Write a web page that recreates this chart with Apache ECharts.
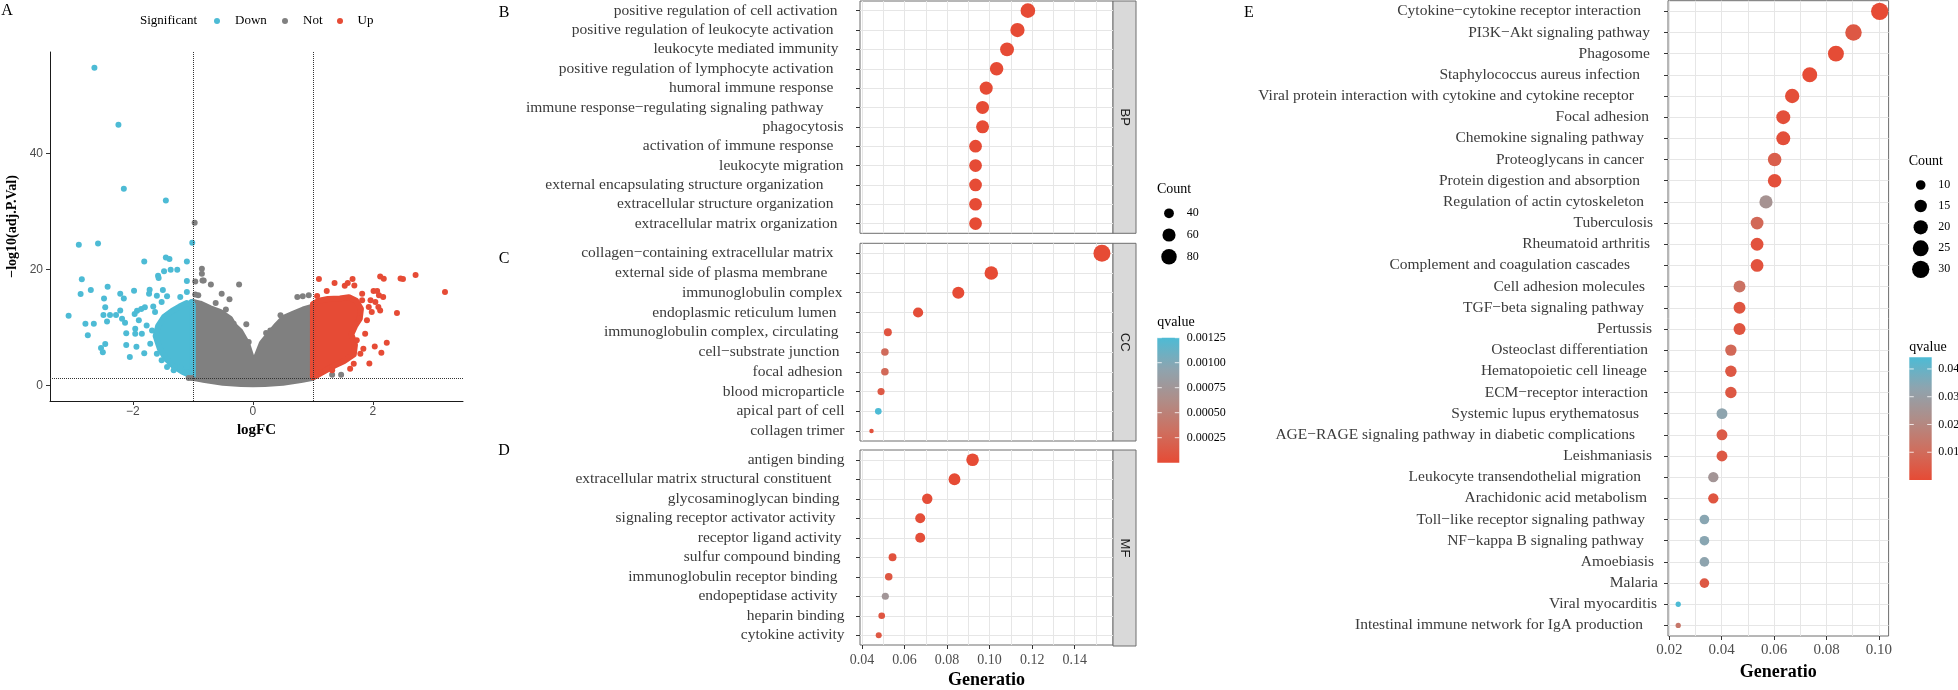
<!DOCTYPE html>
<html><head><meta charset="utf-8">
<script src="https://cdn.jsdelivr.net/npm/echarts@6/dist/echarts.min.js"></script>
<style>html,body{margin:0;padding:0;background:#fff}#c{width:1958px;height:690px}</style>
</head><body><div id="c"></div>
<script>
// ===================== DATA =====================
// Panel A – volcano plot
const volcXTicks = [-2, 0, 2];
const volcYTicks = [0, 20, 40];
const fcCut = [-1, 1];
const pCut = 1.3;
// individually readable points
const downX = [-2.64,-2.24,-2.15,-1.45,-2.9,-2.58,-1.01,-1.81,-1.45,-1.39,-1.1,-2.85,-1.48,-1.58,-1.57,-1.37,-1.26,-1.1,-2.42,-2.7,-2.87,-2.21,-2.48,-2.15,-1.98,-1.73,-1.72,-1.5,-1.6,-3.07,-2.46,-2.49,-2.38,-2.28,-2.21,-2.18,-2.79,-2.65,-2.43,-2.13,-2.75,-2.11,-2.46,-2.53,-2.5,-2.11,-2.05,-1.94,-1.81,-1.96,-1.96,-1.97,-1.93,-1.86,-1.8,-1.66,-1.9,-1.77,-1.68,-1.85,-1.71,-1.6,-1.52,-1.43,-1.32,-1.21,-1.1,-1.43,-1.21,-1.1,-1.02,-1.63,-1.52];
const downY = [54.77,44.94,33.91,31.9,24.25,24.48,24.6,21.38,22.07,21.78,21.38,18.28,19.66,18.91,18.51,19.94,19.94,17.99,17.01,16.44,15.75,15.81,15.0,15.0,16.32,15.81,16.5,16.44,15.46,12.01,13.45,12.13,12.13,12.13,12.93,11.49,10.63,10.63,11.03,10.8,8.62,8.97,7.13,6.44,5.69,6.95,4.89,6.67,5.52,8.91,9.77,12.3,12.87,13.16,13.45,13.62,11.21,10.34,9.48,8.91,7.18,5.46,4.31,3.16,2.59,3.16,2.3,15.35,15.23,16.09,14.37,12.64,14.37];
const notX = [-0.97,-0.85,-0.85,-0.96,-0.84,-0.82,-0.7,-0.23,-0.52,-0.39,-0.96,-0.91,0.74,0.83,0.93,1.32,1.47,-0.07,-0.32,-0.11,0.22,0.29,0.46,-1.07,-1.02,-0.62,-0.45];
const notY = [28.05,20.1,19.25,17.93,18.1,18.1,17.4,17.4,15.8,14.83,15.69,15.52,15.23,15.35,15.52,1.84,1.84,7.47,10.63,10.52,9.02,9.48,12.07,1.26,1.26,14.2,13.1];
const upX = [1.1,1.36,1.53,1.58,1.66,1.69,2.12,2.18,2.46,2.5,2.71,3.2,2.4,2.23,2.14,1.94,2.03,2.01,2.07,2.17,2.1,1.96,1.93,1.98,2.09,1.82,1.82,1.77,1.23,1.07,1.32,1.12,1.62,1.68,1.84,1.79,1.87,1.73,1.0,1.05,2.04,2.12,1.9];
const upY = [18.33,17.64,17.18,17.64,18.33,17.24,18.79,18.39,18.45,18.33,19.02,16.09,12.47,7.36,5.63,3.79,6.72,16.26,16.26,15.23,15.52,14.66,13.51,12.64,13.51,15.81,14.66,11.49,16.26,15.4,2.59,2.3,2.87,3.74,6.32,5.46,8.91,7.76,1.9,1.6,14.37,12.93,11.21];
// outlines of the over-plotted (solid) clouds of points
const notHullX = [-1.0,-1.0,-0.88,-0.71,-0.55,-0.38,-0.32,-0.21,-0.1,0,0.04,0.15,0.26,0.4,0.51,0.68,0.84,1.0,1.0,0.8,0.5,0.2,0,-0.2,-0.5,-0.8];
const notHullY = [1.3,14.4,14.1,13.3,12.7,11.5,10.4,9.3,7.3,4.1,4.4,7.3,8.7,10.4,11.6,12.4,13.1,13.6,1.3,0.9,0.45,0.25,0.2,0.25,0.45,0.9];
const downHullX = [-1.0,-1.0,-1.1,-1.22,-1.35,-1.48,-1.58,-1.62,-1.55,-1.45,-1.32,-1.18,-1.08];
const downHullY = [1.6,13.9,14.2,13.6,12.8,11.8,10.2,8.5,6.3,4.6,3.3,2.4,1.9];
const upHullX = [1.0,1.0,1.1,1.25,1.45,1.6,1.72,1.8,1.78,1.7,1.64,1.7,1.68,1.52,1.36,1.2,1.08];
const upHullY = [1.4,14.0,14.6,14.9,15.0,15.2,14.6,13.2,11.5,10.2,8.8,7.0,5.3,4.2,3.4,2.5,1.8];

// Panels B-D – GO enrichment
const goTicks = [0.04, 0.06, 0.08, 0.10, 0.12, 0.14];
const goMinor = [0.05, 0.07, 0.09, 0.11, 0.13, 0.15];
const bpTerms = ['positive regulation of cell activation','positive regulation of leukocyte activation','leukocyte mediated immunity','positive regulation of lymphocyte activation','humoral immune response','immune response−regulating signaling pathway','phagocytosis','activation of immune response','leukocyte migration','external encapsulating structure organization','extracellular structure organization','extracellular matrix organization'];
const bpRatio = [0.1180,0.1131,0.1082,0.1033,0.0984,0.0967,0.0967,0.0934,0.0934,0.0934,0.0934,0.0934];
const bpCount = [72,69,66,63,60,59,59,57,57,57,57,57];
const bpQ = [1e-10,2e-10,4e-10,1e-9,3e-9,5e-9,6e-9,1e-8,2e-8,2e-8,3e-8,3e-8];
const ccTerms = ['collagen−containing extracellular matrix','external side of plasma membrane','immunoglobulin complex','endoplasmic reticulum lumen','immunoglobulin complex, circulating','cell−substrate junction','focal adhesion','blood microparticle','apical part of cell','collagen trimer'];
const ccRatio = [0.1528,0.1008,0.0853,0.0664,0.0522,0.0508,0.0508,0.0490,0.0477,0.0445];
const ccCount = [95,63,53,42,33,32,32,31,30,28];
const ccQ = [2e-10,1e-8,6e-7,2e-5,8e-5,2.8e-4,2.6e-4,1.2e-4,1.25e-3,5e-5];
const mfTerms = ['antigen binding','extracellular matrix structural constituent','glycosaminoglycan binding','signaling receptor activator activity','receptor ligand activity','sulfur compound binding','immunoglobulin receptor binding','endopeptidase activity','heparin binding','cytokine activity'];
const mfRatio = [0.0920,0.0835,0.0707,0.0674,0.0674,0.0544,0.0526,0.0510,0.0493,0.0479];
const mfCount = [56,51,43,41,41,33,32,31,30,29];
const mfQ = [1e-9,3e-9,2e-5,3e-5,3e-5,6e-5,1e-4,7.5e-4,9e-5,1.1e-4];
const goCountBreaks = [40, 60, 80];
const goQBreaks = [0.00025, 0.00050, 0.00075, 0.00100, 0.00125];

// Panel E – KEGG enrichment
const keggTicks = [0.02, 0.04, 0.06, 0.08, 0.10];
const keggMinor = [0.03, 0.05, 0.07, 0.09];
const keggTerms = ['Cytokine−cytokine receptor interaction','PI3K−Akt signaling pathway','Phagosome','Staphylococcus aureus infection','Viral protein interaction with cytokine and cytokine receptor','Focal adhesion','Chemokine signaling pathway','Proteoglycans in cancer','Protein digestion and absorption','Regulation of actin cytoskeleton','Tuberculosis','Rheumatoid arthritis','Complement and coagulation cascades','Cell adhesion molecules','TGF−beta signaling pathway','Pertussis','Osteoclast differentiation','Hematopoietic cell lineage','ECM−receptor interaction','Systemic lupus erythematosus','AGE−RAGE signaling pathway in diabetic complications','Leishmaniasis','Leukocyte transendothelial migration','Arachidonic acid metabolism','Toll−like receptor signaling pathway','NF−kappa B signaling pathway','Amoebiasis','Malaria','Viral myocarditis','Intestinal immune network for IgA production'];
const keggRatio = [0.1003,0.0903,0.0836,0.0736,0.0669,0.0635,0.0635,0.0602,0.0602,0.0569,0.0535,0.0535,0.0535,0.0468,0.0468,0.0468,0.0435,0.0435,0.0435,0.0401,0.0401,0.0401,0.0368,0.0368,0.0334,0.0334,0.0334,0.0334,0.0234,0.0234];
const keggCount = [30,27,25,22,20,19,19,18,18,17,16,16,16,14,14,14,13,13,13,12,12,12,11,11,10,10,10,10,7,7];
const keggQ = [0.00001,0.004,0.0003,0.0002,0.0008,0.0012,0.0012,0.006,0.0015,0.025,0.009,0.002,0.002,0.012,0.003,0.003,0.009,0.004,0.004,0.033,0.005,0.004,0.026,0.003,0.034,0.034,0.033,0.004,0.0442,0.014];
const keggCountBreaks = [10, 15, 20, 25, 30];
const keggQBreaks = [0.01, 0.02, 0.03, 0.04];

// ===================== STYLE / BUILD =====================
const SERIF = "'Liberation Serif','Times New Roman',serif";
const SANS = "'Liberation Sans',Arial,sans-serif";
const C_DOWN = '#4DBBD5', C_NOT = '#808080', C_UP = '#E64B35';
const qColors = ['#E64B35', '#CE6F5F', '#AF8D88', '#8EA4AF', '#4DBBD5'];
const GRID_C = '#E6E6E6', BORDER_C = '#6E6E6E';
// extra right-hand space after each category label (label layout, px)
const bpPad = [7, 11, 6, 11, 11, 21, 1, 11, 1, 21, 11, 7];
const ccPad = [11, 17, 2, 8, 6, 5, 2, 0, 0, 0];
const mfPad = [0, 13, 5, 9, 3, 4, 7, 7, 0, 0];
const keggPad = [17, 8, 8, 18, 24, 9, 14, 14, 18, 14, 5, 8, 28, 13, 14, 6, 10, 11, 10, 19, 23, 6, 17, 11, 13, 14, 4, 0, 1, 15];

const goAllCounts = bpCount.concat(ccCount, mfCount);
const goCMin = Math.min(...goAllCounts), goCMax = Math.max(...goAllCounts);
const goQMax = Math.max(...bpQ, ...ccQ, ...mfQ);
const kCMin = Math.min(...keggCount), kCMax = Math.max(...keggCount);
const kQMax = Math.max(...keggQ);
const sizeGO = c => 4.5 + 12.5 * Math.sqrt(Math.max(0, c - goCMin) / (goCMax - goCMin));
const sizeKEGG = c => 5.3 + 12 * Math.sqrt(Math.max(0, c - kCMin) / (kCMax - kCMin));
const tickFmt = ticks => v => ticks.some(t => Math.abs(t - v) < 1e-9) ? v.toFixed(2) : '';
const volcFmt = ticks => v => ticks.some(t => Math.abs(t - v) < 1e-9) ? (v < 0 ? '−' + (-v) : String(v)) : '';

function catLabel(pads, margin) {
  const rich = {t:{fontFamily:SERIF, fontSize:15.5, color:'#3b3b3b'}};
  pads.forEach((w, i) => { rich['p' + i] = {width: Math.max(0.01, w), fontSize:15.5}; });
  return {interval:0, margin, rich, formatter:(v, i) => '{t|' + v + '}{p' + i + '| }'};
}

const panels = [
  {key:'BP', terms:bpTerms, ratio:bpRatio, count:bpCount, q:bpQ, pad:bpPad, top:1, height:232.3},
  {key:'CC', terms:ccTerms, ratio:ccRatio, count:ccCount, q:ccQ, pad:ccPad, top:243.3, height:197.7},
  {key:'MF', terms:mfTerms, ratio:mfRatio, count:mfCount, q:mfQ, pad:mfPad, top:450, height:196}
];
const GO_LEFT = 860, GO_W = 253;
const E_LEFT = 1668, E_W = 220.6, E_TOP = 0.7, E_H = 635.3;

const grids = [{left:50, top:52, width:413, height:349}];
const xAxes = [{
  type:'value', gridIndex:0, min:-3.38, max:3.5, splitNumber:3,
  axisLine:{show:true, onZero:false, lineStyle:{color:'#1a1a1a', width:1}},
  axisTick:{show:true, length:4, customValues:volcXTicks, lineStyle:{color:'#333'}},
  axisLabel:{customValues:volcXTicks, formatter:volcFmt(volcXTicks), color:'#4D4D4D', fontFamily:SANS, fontSize:12, margin:5},
  splitLine:{show:false},
  name:'logFC', nameLocation:'middle', nameGap:19,
  nameTextStyle:{fontFamily:SERIF, fontWeight:'bold', fontSize:15, color:'#000'}
}];
const yAxes = [{
  type:'value', gridIndex:0, min:-2.7, max:57.5, splitNumber:3,
  axisLine:{show:true, onZero:false, lineStyle:{color:'#1a1a1a', width:1}},
  axisTick:{show:true, length:4, customValues:volcYTicks, lineStyle:{color:'#333'}},
  axisLabel:{customValues:volcYTicks, formatter:volcFmt(volcYTicks), color:'#4D4D4D', fontFamily:SANS, fontSize:12, margin:7},
  splitLine:{show:false},
  name:'−log10(adj.P.Val)', nameLocation:'middle', nameGap:31,
  nameTextStyle:{fontFamily:SERIF, fontWeight:'bold', fontSize:14, color:'#000'}
}];

const series = [];
function hull(xs, ys, color) {
  series.push({type:'custom', xAxisIndex:0, yAxisIndex:0, silent:true, z:2, data:[[0,0]],
    renderItem:(p, api) => ({type:'polygon',
      shape:{points: xs.map((x,i) => api.coord([x, ys[i]]))},
      style:{fill:color, stroke:color, lineWidth:6, lineJoin:'round'}})});
}
function pts(xs, ys, color) {
  series.push({type:'scatter', xAxisIndex:0, yAxisIndex:0, silent:true, z:2, symbolSize:6,
    itemStyle:{color:color, opacity:1}, data: xs.map((x,i) => [x, ys[i]])});
}
hull(notHullX, notHullY, C_NOT); pts(notX, notY, C_NOT);
hull(downHullX, downHullY, C_DOWN); pts(downX, downY, C_DOWN);
hull(upHullX, upHullY, C_UP); pts(upX, upY, C_UP);
series.push({type:'scatter', xAxisIndex:0, yAxisIndex:0, data:[], z:5, silent:true,
  markLine:{silent:true, z:6, symbol:['none','none'], animation:false, label:{show:false},
    lineStyle:{type:'dotted', color:'#333', width:1},
    data:[{xAxis:fcCut[0]}, {xAxis:fcCut[1]}, {yAxis:pCut}]}});

const goSeriesIdx = [];
panels.forEach((p, k) => {
  const gi = k + 1, last = k === panels.length - 1;
  grids.push({left:GO_LEFT, width:GO_W, top:p.top, height:p.height, show:true, borderColor:BORDER_C, borderWidth:1});
  xAxes.push({type:'value', gridIndex:gi, min:0.0391, max:0.158, splitNumber:6,
    axisLine:{show:false, onZero:false},
    axisTick:{show:last, length:4, customValues:goTicks, lineStyle:{color:'#333'}},
    axisLabel:{show:last, customValues:goTicks, formatter:tickFmt(goTicks), fontFamily:SERIF, fontSize:14, color:'#4D4D4D', margin:8},
    splitLine:{show:true, lineStyle:{color:GRID_C, width:1}},
    name: last ? 'Generatio' : '', nameLocation:'middle', nameGap:26,
    nameTextStyle:{fontFamily:SERIF, fontWeight:'bold', fontSize:18, color:'#000'}});
  yAxes.push({type:'category', gridIndex:gi, data:p.terms, inverse:true,
    axisLine:{show:false}, axisTick:{show:true, alignWithLabel:true, length:4, lineStyle:{color:'#333'}},
    axisLabel:catLabel(p.pad, 15.5), splitLine:{show:false}});
  series.push({type:'scatter', xAxisIndex:gi, yAxisIndex:gi, data:[], z:1, silent:true,
    markLine:{silent:true, z:1, symbol:['none','none'], animation:false, label:{show:false},
      lineStyle:{type:'solid', color:GRID_C, width:1},
      data: p.terms.map(t => ({yAxis:t})).concat(goMinor.map(v => ({xAxis:v})))}});
  goSeriesIdx.push(series.length);
  series.push({type:'scatter', xAxisIndex:gi, yAxisIndex:gi, z:10, silent:true,
    data: p.terms.map((t,i) => [p.ratio[i], t, p.count[i], p.q[i]]),
    symbolSize: v => sizeGO(v[2]), itemStyle:{opacity:1}});
});

// KEGG panel
grids.push({left:E_LEFT, width:E_W, top:E_TOP, height:E_H, show:true, borderColor:BORDER_C, borderWidth:1});
xAxes.push({type:'value', gridIndex:4, min:0.0195, max:0.1037, splitNumber:4,
  axisLine:{show:false, onZero:false},
  axisTick:{show:true, length:4, customValues:keggTicks, lineStyle:{color:'#333'}},
  axisLabel:{customValues:keggTicks, formatter:tickFmt(keggTicks), fontFamily:SERIF, fontSize:15, color:'#4D4D4D', margin:7},
  splitLine:{show:true, lineStyle:{color:GRID_C, width:1}},
  name:'Generatio', nameLocation:'middle', nameGap:26,
  nameTextStyle:{fontFamily:SERIF, fontWeight:'bold', fontSize:18, color:'#000'}});
yAxes.push({type:'category', gridIndex:4, data:keggTerms, inverse:true,
  axisLine:{show:false}, axisTick:{show:true, alignWithLabel:true, length:4, lineStyle:{color:'#333'}},
  axisLabel:catLabel(keggPad, 10), splitLine:{show:false}});
series.push({type:'scatter', xAxisIndex:4, yAxisIndex:4, data:[], z:1, silent:true,
  markLine:{silent:true, z:1, symbol:['none','none'], animation:false, label:{show:false},
    lineStyle:{type:'solid', color:GRID_C, width:1},
    data: keggTerms.map(t => ({yAxis:t})).concat(keggMinor.map(v => ({xAxis:v})))}});
const keggIdx = series.length;
series.push({type:'scatter', xAxisIndex:4, yAxisIndex:4, z:10, silent:true,
  data: keggTerms.map((t,i) => [keggRatio[i], t, keggCount[i], keggQ[i]]),
  symbolSize: v => sizeKEGG(v[2]), itemStyle:{opacity:1}});

// ---------- graphic: panel letters, legends, strips ----------
const G = [];
const text = (x, y, t, size, opts = {}) => G.push({type:'text', x, y, rotation:opts.rot || 0, silent:true,
  style:{text:t, font:(opts.weight || 'normal') + ' ' + size + 'px ' + (opts.family || SERIF),
    fill:opts.color || '#000', textAlign:opts.align || 'left', textVerticalAlign:'middle'}});
const circ = (cx, cy, r, fill) => G.push({type:'circle', silent:true, shape:{cx, cy, r}, style:{fill}});

text(7, 11, 'A', 16, {align:'center'});
text(504, 13, 'B', 16, {align:'center'});
text(504, 259, 'C', 16, {align:'center'});
text(504, 451, 'D', 16, {align:'center'});
text(1249, 13, 'E', 16, {align:'center'});

// volcano legend
text(140, 21, 'Significant', 13);
[[217, 235, 'Down', C_DOWN], [285, 303, 'Not', C_NOT], [340, 357.5, 'Up', C_UP]].forEach(([cx, tx, t, c]) => {
  circ(cx, 21, 3, c); text(tx, 21, t, 13);
});

// strips
panels.forEach(p => {
  G.push({type:'rect', silent:true, shape:{x:GO_LEFT + GO_W, y:p.top, width:23, height:p.height},
    style:{fill:'#D9D9D9', stroke:BORDER_C, lineWidth:1}});
  text(GO_LEFT + GO_W + 11.5, p.top + p.height / 2, p.key, 13, {family:SANS, align:'center', rot:-Math.PI / 2, color:'#1a1a1a'});
});

function sizeLegend(x, titleY, ys, breaks, fn, labelX, fs) {
  text(x - 12, titleY, 'Count', 14);
  breaks.forEach((b, i) => { circ(x, ys[i], fn(b) / 2, '#000'); text(labelX, ys[i], String(b), fs); });
}
function colorBar(x, titleY, top, w, h, qMax, breaks, digits, labelX, fs) {
  text(x, titleY, 'qvalue', 14);
  G.push({type:'rect', silent:true, shape:{x, y:top, width:w, height:h},
    style:{fill:{type:'linear', x:0, y:0, x2:0, y2:1, colorStops: qColors.slice().reverse().map((c, i, a) => ({offset:i / (a.length - 1), color:c}))}}});
  breaks.forEach(b => {
    const y = top + h - b / qMax * h;
    G.push({type:'line', silent:true, shape:{x1:x, y1:y, x2:x + 4.5, y2:y}, style:{stroke:'rgba(255,255,255,0.8)', lineWidth:1}});
    G.push({type:'line', silent:true, shape:{x1:x + w - 4.5, y1:y, x2:x + w, y2:y}, style:{stroke:'rgba(255,255,255,0.8)', lineWidth:1}});
    text(labelX, y, b.toFixed(digits), fs);
  });
}
sizeLegend(1169, 189, [213.3, 235, 256.7], goCountBreaks, sizeGO, 1186.7, 12);
colorBar(1157.3, 322, 337.7, 22, 125, goQMax, goQBreaks, 5, 1186.7, 12);
sizeLegend(1920.7, 161.5, [185, 206, 227.3, 248.3, 269.3], keggCountBreaks, sizeKEGG, 1938.3, 12);
colorBar(1909.3, 347, 357.3, 22.4, 122.7, kQMax, keggQBreaks, 2, 1938.3, 12);

const chart = echarts.init(document.getElementById('c'), null, {renderer:'canvas'});
chart.setOption({
  animation:false,
  backgroundColor:'#fff',
  grid:grids, xAxis:xAxes, yAxis:yAxes, series,
  visualMap:[
    {type:'continuous', show:false, seriesIndex:goSeriesIdx, dimension:3, min:0, max:goQMax, inRange:{color:qColors}},
    {type:'continuous', show:false, seriesIndex:[keggIdx], dimension:3, min:0, max:kQMax, inRange:{color:qColors}}
  ],
  graphic:{elements:G}
});
</script></body></html>
